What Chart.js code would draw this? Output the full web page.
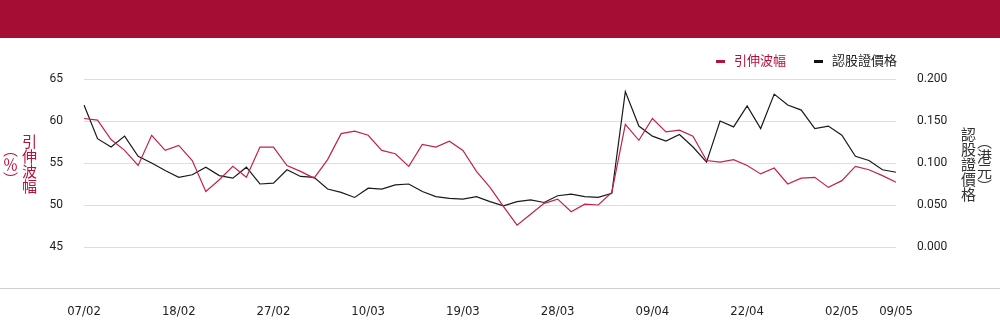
<!DOCTYPE html>
<html>
<head>
<meta charset="UTF-8">
<title>引伸波幅 / 認股證價格</title>
<script src="https://cdn.jsdelivr.net/npm/chart.js"></script>
<style>
  body { margin: 0; background: #fff; font-family: Roboto, "Liberation Sans", Arial, sans-serif; }
  #wrap { position: relative; width: 1000px; height: 324px; overflow: hidden; }
  #banner { position: absolute; left: 0; top: 0; width: 1000px; height: 38px; background: #a50d34; }
  #chartBox { position: absolute; left: 0; top: 38px; width: 1000px; height: 286px; }
  #baseLine { position: absolute; left: 0; top: 288px; width: 1000px; height: 0; border-top: 1px solid #cfcfcf; }
  .legend { position: absolute; top: 50px; font-size: 13px; font-family: "Noto Sans CJK TC", sans-serif; }
  .legend span.box { display: inline-block; width: 9px; height: 3px; vertical-align: middle; margin-right: 9px; }
  .vtitle { position: absolute; font-size: 15px; line-height: 16px; font-family: "Noto Sans CJK TC", sans-serif; text-align: center; }
  #leftTitle { left: 1px; top: 132px; height: 64px; line-height: 19px; writing-mode: vertical-rl; color: #b8113f; }
  #rightTitle { left: 960px; top: 124px; height: 80px; writing-mode: vertical-lr; color: #333; }
</style>
</head>
<body>
<div id="wrap">
  <div id="banner"></div>
  <div id="chartBox"><canvas id="ivChart" width="1000" height="286"></canvas></div>
  <div id="baseLine"></div>
  <div class="legend" style="left:716px;color:#b8113f;"><span class="box" style="background:#b8113f"></span>引伸波幅</div>
  <div class="legend" style="left:814px;color:#222;"><span class="box" style="background:#111"></span>認股證價格</div>
  <div id="leftTitle" class="vtitle">引伸波幅<br>（％）</div>
  <div id="rightTitle" class="vtitle">認股證價格<br>（港元）</div>
</div>
<script>
// 交易日
var dates = ['07/02','10/02','11/02','12/02','13/02','14/02','17/02','18/02','19/02','20/02',
  '21/02','24/02','25/02','26/02','27/02','28/02','03/03','04/03','05/03','06/03',
  '07/03','10/03','11/03','12/03','13/03','14/03','17/03','18/03','19/03','20/03',
  '21/03','24/03','25/03','26/03','27/03','28/03','31/03','01/04','02/04','03/04',
  '07/04','08/04','09/04','10/04','11/04','14/04','15/04','16/04','17/04','22/04',
  '23/04','24/04','25/04','28/04','29/04','30/04','02/05','06/05','07/05','08/05','09/05'];

// 引伸波幅 (%)
var impliedVol = [60.3, 60.1, 57.8, 56.5, 54.7, 58.3, 56.5, 57.1, 55.3, 51.6,
  53.0, 54.6, 53.3, 56.9, 56.9, 54.7, 54.0, 53.2, 55.4, 58.5,
  58.8, 58.3, 56.5, 56.1, 54.6, 57.2, 56.9, 57.6, 56.5, 54.0,
  52.1, 49.8, 47.6, 48.9, 50.2, 50.7, 49.2, 50.1, 50.0, 51.5,
  59.6, 57.7, 60.3, 58.7, 58.9, 58.2, 55.3, 55.1, 55.4, 54.7,
  53.7, 54.4, 52.5, 53.2, 53.3, 52.1, 52.9, 54.6, 54.2, 53.5, 52.7];

// 認股證價格 (港元)
var warrantPrice = [0.169, 0.129, 0.119, 0.132, 0.108, 0.100, 0.091, 0.083, 0.086, 0.095,
  0.085, 0.082, 0.095, 0.075, 0.076, 0.092, 0.084, 0.083, 0.069, 0.065,
  0.059, 0.070, 0.069, 0.074, 0.075, 0.066, 0.060, 0.058, 0.057, 0.060,
  0.054, 0.049, 0.054, 0.056, 0.053, 0.061, 0.063, 0.060, 0.059, 0.064,
  0.185, 0.144, 0.132, 0.126, 0.134, 0.119, 0.101, 0.150, 0.143, 0.168,
  0.141, 0.182, 0.169, 0.163, 0.141, 0.144, 0.133, 0.108, 0.103, 0.092, 0.089];

var leftTicks = [40, 45, 50, 55, 60, 65];
var rightTicks = [-0.05, 0, 0.05, 0.1, 0.15, 0.2];

var tickFont = { family: 'Roboto, "Liberation Sans", Arial', size: 12 };

var ctx = document.getElementById('ivChart').getContext('2d');
var ivChart = new Chart(ctx, {
  type: 'line',
  data: {
    labels: dates,
    datasets: [{
      label: '引伸波幅',
      data: impliedVol,
      yAxisID: 'y',
      borderColor: '#c4214c',
      borderWidth: 1.2,
      pointRadius: 0,
      tension: 0
    }, {
      label: '認股證價格',
      data: warrantPrice,
      yAxisID: 'y1',
      borderColor: '#1a1a1a',
      borderWidth: 1.2,
      pointRadius: 0,
      tension: 0
    }]
  },
  options: {
    responsive: false,
    animation: false,
    devicePixelRatio: 1,
    layout: { padding: { top: 41, left: 0, right: 0, bottom: 0 } },
    plugins: { legend: { display: false }, tooltip: { enabled: false } },
    scales: {
      x: {
        grid: { display: false },
        border: { display: false },
        afterFit: function (s) { s.height = 35; },
        ticks: {
          autoSkip: false,
          maxRotation: 0,
          padding: 7,
          color: '#222',
          font: { family: '"Liberation Sans Narrow", "DejaVu Sans Condensed", sans-serif', size: 13 },
          callback: function (v, i) {
            return (i % 7 === 0 || i === dates.length - 1) ? dates[i] : '';
          }
        }
      },
      y: {
        position: 'left',
        min: leftTicks[0],
        max: leftTicks[leftTicks.length - 1],
        afterBuildTicks: function (s) { s.ticks = leftTicks.map(function (v) { return { value: v }; }); },
        afterFit: function (s) { s.width = 84; },
        border: { display: false },
        grid: {
          drawTicks: false,
          color: function (c) { return c.tick && c.tick.value === leftTicks[0] ? 'rgba(0,0,0,0)' : '#dedede'; }
        },
        ticks: {
          padding: 21,
          color: '#222',
          font: tickFont,
          callback: function (v) { return v === leftTicks[0] ? '' : v; }
        }
      },
      y1: {
        position: 'right',
        min: rightTicks[0],
        max: rightTicks[rightTicks.length - 1],
        afterBuildTicks: function (s) { s.ticks = rightTicks.map(function (v) { return { value: v }; }); },
        afterFit: function (s) { s.width = 104; },
        border: { display: false },
        grid: { display: false, drawTicks: false },
        ticks: {
          padding: 21,
          color: '#222',
          font: tickFont,
          callback: function (v) { return v < 0 ? '' : v.toFixed(3); }
        }
      }
    }
  }
});
</script>
</body>
</html>
